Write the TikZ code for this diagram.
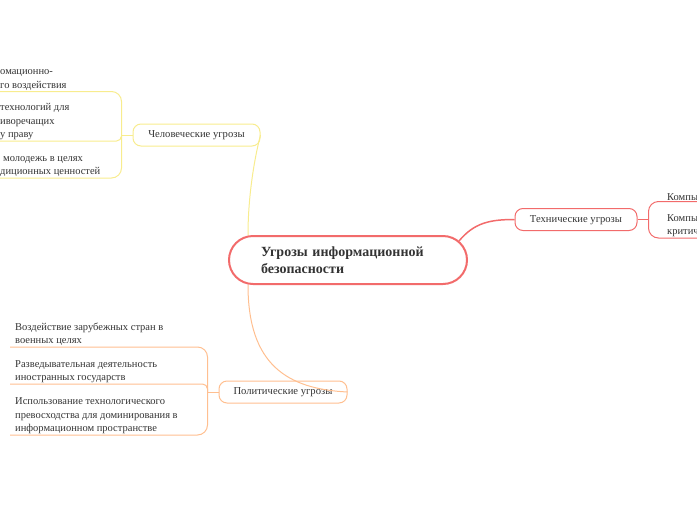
\documentclass[tikz,border=0pt]{standalone}
\usepackage{fontspec}
\setmainfont{Liberation Serif}
\usetikzlibrary{positioning,calc}
\definecolor{redline}{HTML}{F26B6B}
\definecolor{yellowline}{HTML}{F8EC8E}
\definecolor{orangeline}{HTML}{FFBF90}
\definecolor{textgray}{HTML}{333333}

\begin{document}
\begin{tikzpicture}[x=1pt,y=-1pt,
  topic/.style={draw, rounded corners=8pt, minimum height=22pt, inner sep=0pt, text depth=1.5pt, line width=1pt, text=textgray, font=\fontsize{10.6}{13}\selectfont},
  leaf/.style={anchor=south west, align=left, inner xsep=5pt, inner ysep=1pt, text=textgray, font=\fontsize{10.5}{13.5}\selectfont},
  link/.style={line width=1pt},
]
\useasboundingbox (0,0) rectangle (697,520);
\clip (0,0) rectangle (697,520);

% main topic
\node (central) [draw=redline, line width=2pt, rounded corners=24pt, minimum width=238pt, minimum height=48pt,
  text width=174pt, inner xsep=32pt, align=left, text=textgray, font=\bfseries\fontsize{14}{17}\selectfont]
  at (348,260) {Угрозы информационной\\безопасности};

% subtopics
\node (human) [topic, draw=yellowline, minimum width=127pt] at (196.5,135) {Человеческие угрозы};
\node (tech) [topic, draw=redline, minimum width=122pt] at (576,219.5) {Технические угрозы};
\node (polit) [topic, draw=orangeline, minimum width=128pt] at (283,392) {Политические угрозы};

\coordinate (hj) at ([xshift=-11pt]human.west);
\coordinate (pj) at ([xshift=-11pt]polit.west);
\coordinate (tj) at ([xshift=11pt]tech.east);

% leaves
\node (h1) [leaf] at (-5,91.5) {омационно-\\го воздействия};
\node (h2) [leaf] at (-5,141) {технологий для\\иворечащих\\у праву};
\node (h3) [leaf] at (-5,178) {\hspace*{3pt}молодежь в целях\\диционных ценностей};

\node (p1) [leaf] at (10,347) {Воздействие зарубежных стран в\\военных целях};
\node (p2) [leaf] at (10,384) {Разведывательная деятельность\\иностранных государств};
\node (p3) [leaf] at (10,435) {Использование технологического\\превосходства для доминирования в\\информационном пространстве};

\node (t1) [leaf, text width=55pt] at (662,201.5) {Компы};
\node (t2) [leaf, text width=55pt] at (662,238) {Компы\\критич};

% links to main topic
\draw[link, yellowline] ([xshift=20pt]central.north west) .. controls +(0,-45) and +(-4,15) .. (human.east);
\draw[link, orangeline] ([xshift=20pt]central.south west) .. controls +(0,80) and +(-60,-3) .. (polit.east);
\draw[link, redline, line width=1.5pt] ([xshift=-9pt,yshift=-6pt]central.north east) .. controls +(15,-18) and +(-25,0) .. (tech.west);

% brackets
\draw[link, yellowline] (human.west) -- (hj);
\draw[link, yellowline, rounded corners=10pt] (hj) |- (h1.south west);
\draw[link, yellowline, rounded corners=5pt] (hj) |- (h2.south west);
\draw[link, yellowline, rounded corners=10pt] (hj) |- (h3.south west);

\draw[link, orangeline] (polit.west) -- (pj);
\draw[link, orangeline, rounded corners=10pt] (pj) |- (p1.south west);
\draw[link, orangeline, rounded corners=5pt] (pj) |- (p2.south west);
\draw[link, orangeline, rounded corners=10pt] (pj) |- (p3.south west);

\draw[link, redline, line width=1.5pt] (tech.east) -- (tj);
\draw[link, redline, rounded corners=10pt] (tj) |- (t1.south east);
\draw[link, redline, rounded corners=10pt] (tj) |- (t2.south east);
\end{tikzpicture}
\end{document}
